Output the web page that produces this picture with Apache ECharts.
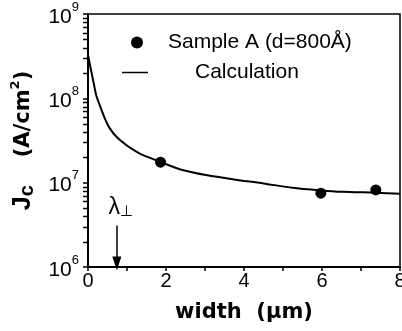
<!DOCTYPE html>
<html>
<head>
<meta charset="utf-8">
<script src="https://cdn.jsdelivr.net/npm/echarts@6/dist/echarts.min.js"></script>
<style>html,body{margin:0;padding:0;background:#fff}#c{width:402px;height:331px}</style>
</head>
<body>
<div id="c"></div>
<script>
// ---- data ----
const sampleName = 'Sample A (d=800Å)';
const calcName = 'Calculation';
const sampleX = [1.86, 5.97, 7.38];
const sampleY = [1.75e7, 7.5e6, 8.2e6];
const calcX = [0.0, 0.06, 0.13, 0.21, 0.30, 0.43, 0.56, 0.73, 0.98, 1.24, 1.41, 1.86, 2.42, 3.02, 3.87, 4.5, 5.24, 5.97, 6.52, 7.38, 8.0];
const calcY = [3.3e8, 2.37e8, 1.65e8, 1.09e8, 8.3e7, 5.8e7, 4.4e7, 3.5e7, 2.8e7, 2.33e7, 2.12e7, 1.76e7, 1.41e7, 1.23e7, 1.07e7, 9.8e6, 8.7e6, 8.1e6, 7.8e6, 7.6e6, 7.4e6];
const yDecades = [6, 7, 8, 9];
const minorMultipliers = [2, 3, 4, 5, 6, 7, 8, 9];
const xTicks = [0, 2, 4, 6, 8];
const lambdaX = 0.74;
const arrowFromY = 3.1e6;
const arrowToY = 1.1e6;

const FONT = "'Liberation Sans', Arial, Helvetica, sans-serif";
const WIDE = "'DejaVu Sans', 'Liberation Sans', sans-serif";
// minor log tick values 2..9 x 10^n
const minorVals = [];
yDecades.slice(0, -1).forEach(d => minorMultipliers.forEach(k => minorVals.push(k * Math.pow(10, d))));

const chart = echarts.init(document.getElementById('c'), null, {renderer: 'canvas'});
chart.setOption({
  backgroundColor: '#fff',
  animation: false,
  textStyle: {fontFamily: FONT, color: '#000'},
  grid: {left: 88, right: 2, top: 14, bottom: 64, show: true, borderColor: '#000', borderWidth: 1.5, containLabel: false, outerBoundsMode: 'none'},
  legend: [
    {data: [{name: sampleName, icon: 'circle', itemStyle: {color: '#000', opacity: 1}}], left: 131, top: 32, padding: 0, itemWidth: 12, itemHeight: 12,
     textStyle: {fontFamily: FONT, fontSize: 21, color: '#000', padding: [0, 0, 0, 20]}, selectedMode: false},
    {data: [{name: calcName, icon: 'rect', itemStyle: {color: '#000'}}], left: 122, top: 62, padding: 0, itemWidth: 26, itemHeight: 1.5,
     textStyle: {fontFamily: FONT, fontSize: 21, color: '#000', padding: [0, 0, 0, 42]}, selectedMode: false}
  ],
  xAxis: {
    type: 'value', min: xTicks[0], max: xTicks[xTicks.length - 1], interval: 2,
    axisLine: {lineStyle: {color: '#000', width: 2}},
    axisTick: {length: 4, lineStyle: {color: '#000', width: 1.5}},
    minorTick: {show: true, splitNumber: 2, length: 4, lineStyle: {color: '#000', width: 1.5}},
    splitLine: {show: false},
    axisLabel: {fontFamily: FONT, fontSize: 20, color: '#000', margin: 4},
    name: 'width  (μm)', nameLocation: 'middle', nameGap: 35,
    nameTextStyle: {fontFamily: WIDE, fontSize: 21, fontWeight: 'bold', color: '#000'}
  },
  yAxis: {
    type: 'log', logBase: 10, min: Math.pow(10, yDecades[0]), max: Math.pow(10, yDecades[yDecades.length - 1]), position: 'left',
    axisLine: {lineStyle: {color: '#000', width: 2}},
    axisTick: {length: 5, lineStyle: {color: '#000', width: 1.5}},
    splitLine: {show: false},
    axisLabel: {
      margin: 9,
      formatter: v => '{a|10}{b|' + Math.round(Math.log10(v)) + '}',
      rich: {
        a: {fontFamily: FONT, fontSize: 21, color: '#000', padding: [6, 0, 0, 0]},
        b: {fontFamily: FONT, fontSize: 13, color: '#000', verticalAlign: 'top'}
      }
    },
    name: '{j|J}{s|c}{g|}{m|(A/cm}{p|2}{m|)}', nameLocation: 'middle', nameGap: 47,
    nameTextStyle: {
      rich: {
        j: {fontFamily: FONT, fontSize: 25, fontWeight: 'bold', color: '#000', lineHeight: 28},
        s: {fontFamily: FONT, fontSize: 20, fontWeight: 'bold', color: '#000', verticalAlign: 'bottom', lineHeight: 28},
        g: {width: 28, lineHeight: 28},
        m: {fontFamily: WIDE, fontSize: 21, fontWeight: 'bold', color: '#000', lineHeight: 28},
        p: {fontFamily: WIDE, fontSize: 13, fontWeight: 'bold', color: '#000', verticalAlign: 'top', lineHeight: 28}
      }
    }
  },
  series: [
    {
      name: calcName, type: 'line', symbol: 'none', smooth: 0.25,
      lineStyle: {color: '#000', width: 2}, itemStyle: {color: '#000'},
      data: calcX.map((x, i) => [x, calcY[i]]),
      markLine: {
        silent: true, symbol: ['none', 'triangle'], symbolSize: [9, 14],
        lineStyle: {color: '#000', width: 1.5, type: 'solid'},
        label: {show: true, position: 'start', distance: 6, offset: [4, 0], formatter: '{l|λ}{s|⊥}',
          rich: {l: {fontFamily: FONT, fontSize: 23, color: '#000'}, s: {fontFamily: FONT, fontSize: 15, color: '#000', verticalAlign: 'bottom'}}},
        data: [[{coord: [lambdaX, arrowFromY]}, {coord: [lambdaX, arrowToY]}]]
      }
    },
    {
      name: sampleName, type: 'scatter', symbol: 'circle', symbolSize: 11,
      itemStyle: {color: '#000', opacity: 1},
      data: sampleX.map((x, i) => [x, sampleY[i]])
    },
    {
      // minor log ticks on the y axis, positioned through the axis scale
      name: '_minorTicks', type: 'custom', silent: true, clip: false, z: 10,
      data: minorVals.map(v => [xTicks[0], v]),
      renderItem: (params, api) => {
        const p = api.coord([api.value(0), api.value(1)]);
        return {type: 'line', z2: 100, shape: {x1: p[0] - 5, y1: Math.round(p[1]) + 0.5, x2: p[0] + 1, y2: Math.round(p[1]) + 0.5},
                style: {stroke: '#000', lineWidth: 1.5}};
      }
    }
  ]
});
</script>
</body>
</html>
